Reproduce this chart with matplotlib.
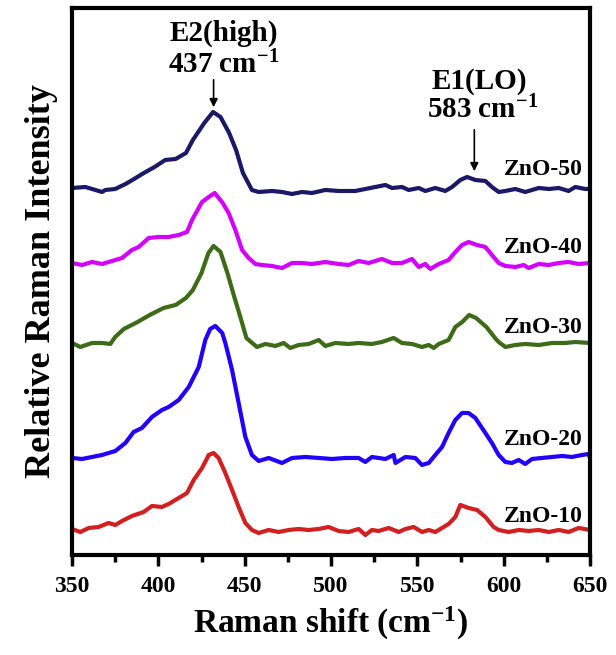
import matplotlib
matplotlib.use("Agg")
import matplotlib.pyplot as plt
from matplotlib.ticker import MultipleLocator

plt.rcParams['font.family'] = ['Liberation Serif', 'DejaVu Serif']
plt.rcParams['font.weight'] = 'bold'
plt.rcParams['mathtext.default'] = 'regular'

# ---- data (Raman shift in cm-1, stacked relative intensity in a.u.) ----
x50 = [350, 357.7, 361.6, 367.4, 369.3, 375, 381, 385, 391.6, 397.8, 404, 410, 416, 420, 426.6, 431.7,
       436, 441, 445, 449, 454.2, 458.1, 465.8, 471.6, 477.4, 483.2, 489, 496.7, 504.4, 514, 519.9,
       525.7, 531.5, 535.3, 541.1, 545, 550.8, 554.6, 560.4, 566.2, 570.1, 574.9, 578.8, 583.6, 589.4,
       593.2, 597.1, 601, 606.8, 612.5, 620.3, 626.1, 631.9, 637.6, 641.5, 647.3, 650]
y50 = [367, 368, 366, 363, 365, 366, 371, 375, 382, 388, 395, 396, 402, 415, 432, 443,
       438, 422, 405, 382, 365, 363, 364, 363, 361, 363, 362, 365, 364, 364, 366,
       368, 370, 367, 368, 365, 367, 364, 367, 364, 368, 375, 378, 375, 374,
       368, 363, 364, 366, 363, 367, 366, 367, 364, 368, 366, 366]

x40 = [350, 355.8, 361.6, 367.4, 373.2, 379, 384.7, 388.6, 394.4, 400.2, 406, 411.8, 416.6, 419.5,
       425.3, 429.2, 432.6, 436.9, 440.7, 444.6, 448.5, 452.3, 456.2, 460, 465.8, 471.6, 477.4, 483.2,
       489, 496.7, 504.4, 510.2, 516, 521.8, 529.5, 535.3, 541.1, 546.9, 550.8, 554.6, 557.5, 562.4,
       568.1, 572, 575.9, 579.7, 584.6, 589.4, 593.2, 597.1, 601, 606.8, 611.6, 614.5, 620.3, 626.1,
       631.9, 637.6, 643.4, 650]
y40 = [292, 290, 293, 291, 294, 297, 305, 308, 317, 318, 318, 320, 323, 335,
       353, 358, 362, 353, 342, 325, 305, 297, 291, 290, 289, 287, 292, 292,
       291, 293, 291, 290, 294, 292, 296, 292, 292, 296, 288, 291, 286, 291,
       295, 303, 310, 313, 310, 308, 300, 292, 289, 288, 290, 287, 291, 290,
       292, 293, 291, 292]

x30 = [350, 354.8, 361.6, 367.4, 372.2, 375, 380, 388, 395, 403, 410, 416, 420, 425, 429, 432, 436,
       440, 444, 448, 451, 452.3, 457.1, 462, 467.8, 472.6, 476.4, 481.3, 487.1, 492.9, 496.7, 502.5,
       510.2, 516, 523.7, 529.5, 536.3, 541.1, 546.9, 552.7, 556.6, 559.5, 562.4, 568.1, 572, 576, 580,
       584, 590, 595, 597.1, 601, 606.8, 612.5, 620.3, 628, 635.7, 641.5, 650]
y30 = [212, 208, 212, 212, 211, 218, 226, 233, 240, 247, 250, 257, 265, 282, 302, 309, 303,
       282, 258, 235, 217, 215, 208, 211, 209, 212, 207, 210, 211, 215, 209, 212,
       211, 212, 211, 213, 217, 212, 211, 208, 210, 207, 211, 215, 228, 233, 240,
       237, 228, 217, 213, 208, 210, 211, 210, 212, 212, 213, 212]

x20 = [350, 355.8, 361.6, 367.4, 371.2, 375.1, 380.9, 385.7, 390.5, 396.3, 402.1, 406, 411.8, 417.6,
       423.4, 427.2, 430, 433, 437, 438.8, 442.7, 446.5, 450.4, 454.2, 458.1, 463.9, 471.6, 477.4,
       485.1, 492.9, 500.6, 508.3, 516, 519.9, 523.7, 531.5, 536.3, 537.3, 543.1, 548.8, 552.7, 556.6,
       560.4, 564.3, 568.1, 572, 575.9, 579.7, 583.6, 589.4, 593.2, 597.1, 601, 604.8, 608.7, 612.5,
       616.4, 622.2, 628, 633.8, 639.6, 645.4, 649.2, 650]
y20 = [97, 96, 98, 100, 102, 104, 112, 123, 127, 138, 145, 148, 155, 168,
       188, 215, 226, 229, 222, 212, 185, 152, 118, 100, 94, 97, 92, 97,
       98, 97, 96, 97, 97, 93, 98, 96, 100, 92, 98, 97, 90, 92,
       100, 108, 122, 135, 142, 142, 137, 122, 112, 100, 93, 92, 95, 91,
       96, 97, 98, 99, 98, 100, 101, 97]

x10 = [350, 354.8, 359.7, 365.4, 371.2, 375.1, 379, 384.7, 391.5, 396.3, 402.1, 406, 411.8, 416.6,
       420.5, 425.3, 429.2, 432, 434.9, 438.8, 442.7, 446.5, 450.4, 454.2, 458.1, 463.9, 469.7, 475.5,
       481.3, 487.1, 492.9, 498.6, 504.4, 510.2, 516, 519.9, 523.7, 527.6, 533.4, 539.2, 543.1, 547.9,
       552.7, 556.6, 560.4, 564.3, 568.1, 572, 574.9, 579.7, 584.6, 589.4, 594.2, 597.1, 602.9, 608.7,
       614.5, 620.3, 626.1, 631.9, 637.6, 643.4, 650]
y10 = [26, 23, 27, 28, 32, 30, 34, 39, 43, 49, 48, 51, 57, 62,
       75, 87, 100, 102, 97, 82, 65, 48, 32, 25, 22, 25, 23, 25,
       26, 25, 26, 28, 24, 23, 26, 20, 25, 24, 27, 23, 26, 28,
       23, 25, 23, 27, 31, 38, 50, 47, 45, 38, 28, 25, 23, 25,
       24, 25, 23, 25, 23, 27, 25]

names = ['ZnO-10', 'ZnO-20', 'ZnO-30', 'ZnO-40', 'ZnO-50']
colors = ['#d21f1f', '#2200ff', '#3d6b17', '#d400ff', '#1b1866']
label_y = [38, 115, 227, 307, 385]
xs_all = [x10, x20, x30, x40, x50]
ys_all = [y10, y20, y30, y40, y50]

fig = plt.figure(figsize=(6.16, 6.55), dpi=100)
ax = fig.add_axes([0.1169, 0.1527, 0.8409, 0.8351])

for xs, ys, name, col, ly in zip(xs_all, ys_all, names, colors, label_y):
    ax.plot(xs, ys, color=col, lw=3.0, solid_joinstyle='round')
    ax.text(646, ly, name, ha='right', va='center', fontsize=17, fontweight='bold')

ax.set_xlim(350, 650)
ax.set_ylim(0, 547)

ax.xaxis.set_major_locator(MultipleLocator(50))
ax.xaxis.set_minor_locator(MultipleLocator(25))
ax.tick_params(axis='x', which='major', direction='out', length=8, width=2.5, labelsize=17, pad=7)
ax.tick_params(axis='x', which='minor', direction='out', length=5, width=2.5)
ax.tick_params(axis='y', left=False, labelleft=False)
for lab in ax.get_xticklabels():
    lab.set_fontweight('bold')
for sp in ax.spines.values():
    sp.set_linewidth(3)

ax.set_xlabel('Raman shift (cm$^{-1}$)', fontsize=24, fontweight='bold', labelpad=6)
ax.set_ylabel('Relative Raman Intensity', fontsize=26, fontweight='bold', labelpad=10)

# peak annotations
ax.text(438, 522, 'E2(high)', ha='center', va='center', fontsize=21, fontweight='bold')
ax.text(438, 490, '437 cm$^{-1}$', ha='center', va='center', fontsize=21, fontweight='bold')
ax.annotate('', xy=(432, 445), xytext=(432, 478),
            arrowprops=dict(arrowstyle='-|>', color='black', lw=1.2, mutation_scale=12))

ax.text(586, 473, 'E1(LO)', ha='center', va='center', fontsize=21, fontweight='bold')
ax.text(588, 445, '583 cm$^{-1}$', ha='center', va='center', fontsize=21, fontweight='bold')
ax.annotate('', xy=(583, 381), xytext=(583, 428),
            arrowprops=dict(arrowstyle='-|>', color='black', lw=1.2, mutation_scale=12))

fig.savefig('out.png', dpi=100)
